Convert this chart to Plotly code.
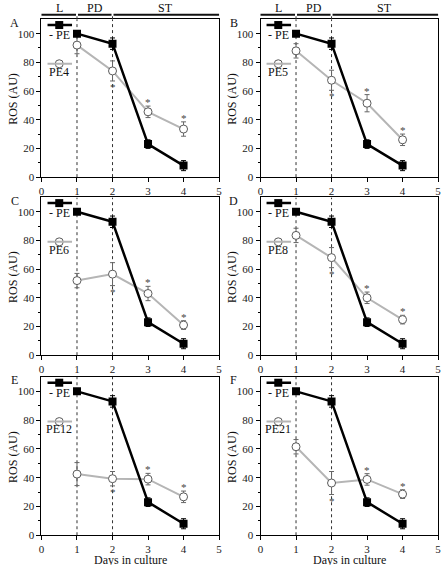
import plotly.graph_objects as go

# ---------------- data ----------------
days = [1, 2, 3, 4]
minus_pe = [100, 93, 23, 8]
minus_pe_err = [0.5, 4, 3, 3.5]

panel_letters = ["A", "B", "C", "D", "E", "F"]
pe_names = ["PE4", "PE5", "PE6", "PE8", "PE12", "PE21"]
pe4 = [92, 74, 45.5, 33.5]
pe5 = [88, 67.5, 51.5, 26]
pe6 = [52, 56.5, 43, 21]
pe8 = [83.5, 68, 40, 24.8]
pe12 = [42.5, 39.3, 39, 26.7]
pe21 = [61.5, 36.3, 38.8, 28.6]
pe4_err = [6, 7, 4, 5]
pe5_err = [5, 7, 6, 4]
pe6_err = [5, 8, 5, 3]
pe8_err = [5, 7, 4, 3]
pe12_err = [8, 5, 4, 4]
pe21_err = [5, 8, 4, 3]
# significance marks: position relative to PE point ('' none)
star_pos = ["", "below", "above", "above"]

stage_labels = ["L", "PD", "ST"]
stage_bounds = [(0, 1), (1, 2), (2, 5)]

pe_values = [pe4, pe5, pe6, pe8, pe12, pe21]
pe_errors = [pe4_err, pe5_err, pe6_err, pe8_err, pe12_err, pe21_err]

# ---------------- layout geometry ----------------
W, H = 448, 565
col_px = [(39, 219), (261, 441)]
row_px = [(19.5, 179), (199.5, 359), (381, 541)]  # (top, bottom) in px
FONT = "Liberation Serif"
BLACK = "#000000"
GRAY = "#b5b5b5"

fig = go.Figure()
annotations = []
shapes = []


def ann(**kw):
    kw.setdefault("showarrow", False)
    kw.setdefault("xanchor", "center")
    kw.setdefault("yanchor", "middle")
    annotations.append(kw)


for i in range(6):
    r, c = divmod(i, 2)
    n = i + 1
    xa = "x" if n == 1 else f"x{n}"
    ya = "y" if n == 1 else f"y{n}"
    xdom = [col_px[c][0] / W, col_px[c][1] / W]
    ydom = [1 - row_px[r][1] / H, 1 - row_px[r][0] / H]
    axis_common = dict(showline=True, linecolor=BLACK, linewidth=1, mirror=True,
                       showgrid=False, zeroline=False, ticks="outside",
                       tickcolor=BLACK, tickfont=dict(family=FONT, size=11, color="#222"))
    fig.layout[f"xaxis{'' if n == 1 else n}"] = dict(
        domain=xdom, range=[0, 5], tickvals=[0, 1, 2, 3, 4, 5], ticklen=4,
        anchor=ya, **axis_common)
    fig.layout[f"yaxis{'' if n == 1 else n}"] = dict(
        domain=ydom, range=[0, 110], tickvals=[0, 20, 40, 60, 80, 100], ticklen=4,
        minor=dict(tickvals=[10, 30, 50, 70, 90], ticklen=2, ticks="outside", tickcolor=BLACK),
        anchor=xa, **axis_common)

    # vertical dotted stage separators
    for d in [1, 2]:
        shapes.append(dict(type="line", xref=xa, yref=ya, x0=d, x1=d, y0=0, y1=110,
                           line=dict(color="#333", width=1, dash="dot"), layer="below"))

    pe = pe_values[i]
    err = pe_errors[i]
    # PE trace (gray)
    fig.add_trace(go.Scatter(
        x=days, y=pe, xaxis=xa, yaxis=ya, mode="lines+markers", showlegend=False,
        line=dict(color=GRAY, width=2),
        marker=dict(symbol="circle", size=8, color="white", line=dict(color="#5a5a5a", width=1)),
        error_y=dict(type="data", array=err, color="#666", thickness=1, width=2.5)))
    # -PE trace (black)
    fig.add_trace(go.Scatter(
        x=days, y=minus_pe, xaxis=xa, yaxis=ya, mode="lines+markers", showlegend=False,
        line=dict(color=BLACK, width=2.5),
        marker=dict(symbol="square", size=8, color=BLACK),
        error_y=dict(type="data", array=minus_pe_err, color=BLACK, thickness=1, width=2.5)))

    # asterisks
    for d, v, e, pos in zip(days, pe, err, star_pos):
        if pos == "above":
            ann(x=d, y=v + e, xref=xa, yref=ya, text="*", yanchor="bottom", yshift=-4,
                font=dict(family=FONT, size=11, color="#444"))
        elif pos == "below":
            ann(x=d, y=v - e, xref=xa, yref=ya, text="*", yanchor="top", yshift=2,
                font=dict(family=FONT, size=11, color="#444"))

    # in-panel legend keys
    shapes.append(dict(type="line", xref=xa, yref=ya, x0=0.17, x1=0.86, y0=106, y1=106,
                       line=dict(color=BLACK, width=2.5)))
    shapes.append(dict(type="line", xref=xa, yref=ya, x0=0.17, x1=0.86, y0=79, y1=79,
                       line=dict(color=GRAY, width=2)))
    fig.add_trace(go.Scatter(x=[0.5], y=[106], xaxis=xa, yaxis=ya, mode="markers",
                             showlegend=False, hoverinfo="skip", cliponaxis=False,
                             marker=dict(symbol="square", size=8, color=BLACK)))
    fig.add_trace(go.Scatter(x=[0.5], y=[79], xaxis=xa, yaxis=ya, mode="markers",
                             showlegend=False, hoverinfo="skip",
                             marker=dict(symbol="circle", size=8, color="white",
                                         line=dict(color="#5a5a5a", width=1))))
    ann(x=0.5, y=99, xref=xa, yref=ya, text="- PE",
        font=dict(family=FONT, size=12, color="#111"))
    ann(x=0.5, y=73.5, xref=xa, yref=ya, text=pe_names[i],
        font=dict(family=FONT, size=12, color="#111"))

    # panel letter
    ann(x=(col_px[c][0] - 27) / W, y=1 - (row_px[r][0] + 3.5) / H,
        xref="paper", yref="paper", text=panel_letters[i],
        font=dict(family=FONT, size=12, color="#111"))
    # y axis title
    ann(x=(col_px[c][0] - 29) / W, y=1 - (row_px[r][1] - 79) / H,
        xref="paper", yref="paper", text="ROS (AU)", textangle=-90,
        font=dict(family=FONT, size=12, color="#111"))

    # stage bar on top row
    if r == 0:
        x0p, x1p = col_px[c]
        bar_y = 1 - 15 / H
        for lab, (a, b) in zip(stage_labels, stage_bounds):
            pa = (x0p + (x1p - x0p) * a / 5) / W
            pb = (x0p + (x1p - x0p) * b / 5) / W
            g = 1.0 / W
            shapes.append(dict(type="line", xref="paper", yref="paper",
                               x0=pa + (g if a > 0 else 0), x1=pb - (g if b < 5 else 0),
                               y0=bar_y, y1=bar_y, line=dict(color="#111", width=2)))
            ann(x=(pa + pb) / 2, y=1 - 8.5 / H, xref="paper", yref="paper", text=lab,
                font=dict(family=FONT, size=12, color="#111"))
        for d in [1, 2]:
            px = (x0p + (x1p - x0p) * d / 5) / W
            shapes.append(dict(type="line", xref="paper", yref="paper", x0=px, x1=px,
                               y0=1 - 19.5 / H, y1=bar_y,
                               line=dict(color="#333", width=1, dash="dot")))

    # x-axis title for bottom row
    if r == 2:
        ann(x=(col_px[c][0] + col_px[c][1]) / 2 / W, y=1 - 556.5 / H,
            xref="paper", yref="paper", text="Days in culture", yanchor="top",
            font=dict(family=FONT, size=12, color="#111"))

fig.update_layout(width=W, height=H, margin=dict(l=0, r=0, t=0, b=0),
                  paper_bgcolor="white", plot_bgcolor="white",
                  annotations=annotations, shapes=shapes, showlegend=False,
                  font=dict(family=FONT))

fig.write_html("out.html")
